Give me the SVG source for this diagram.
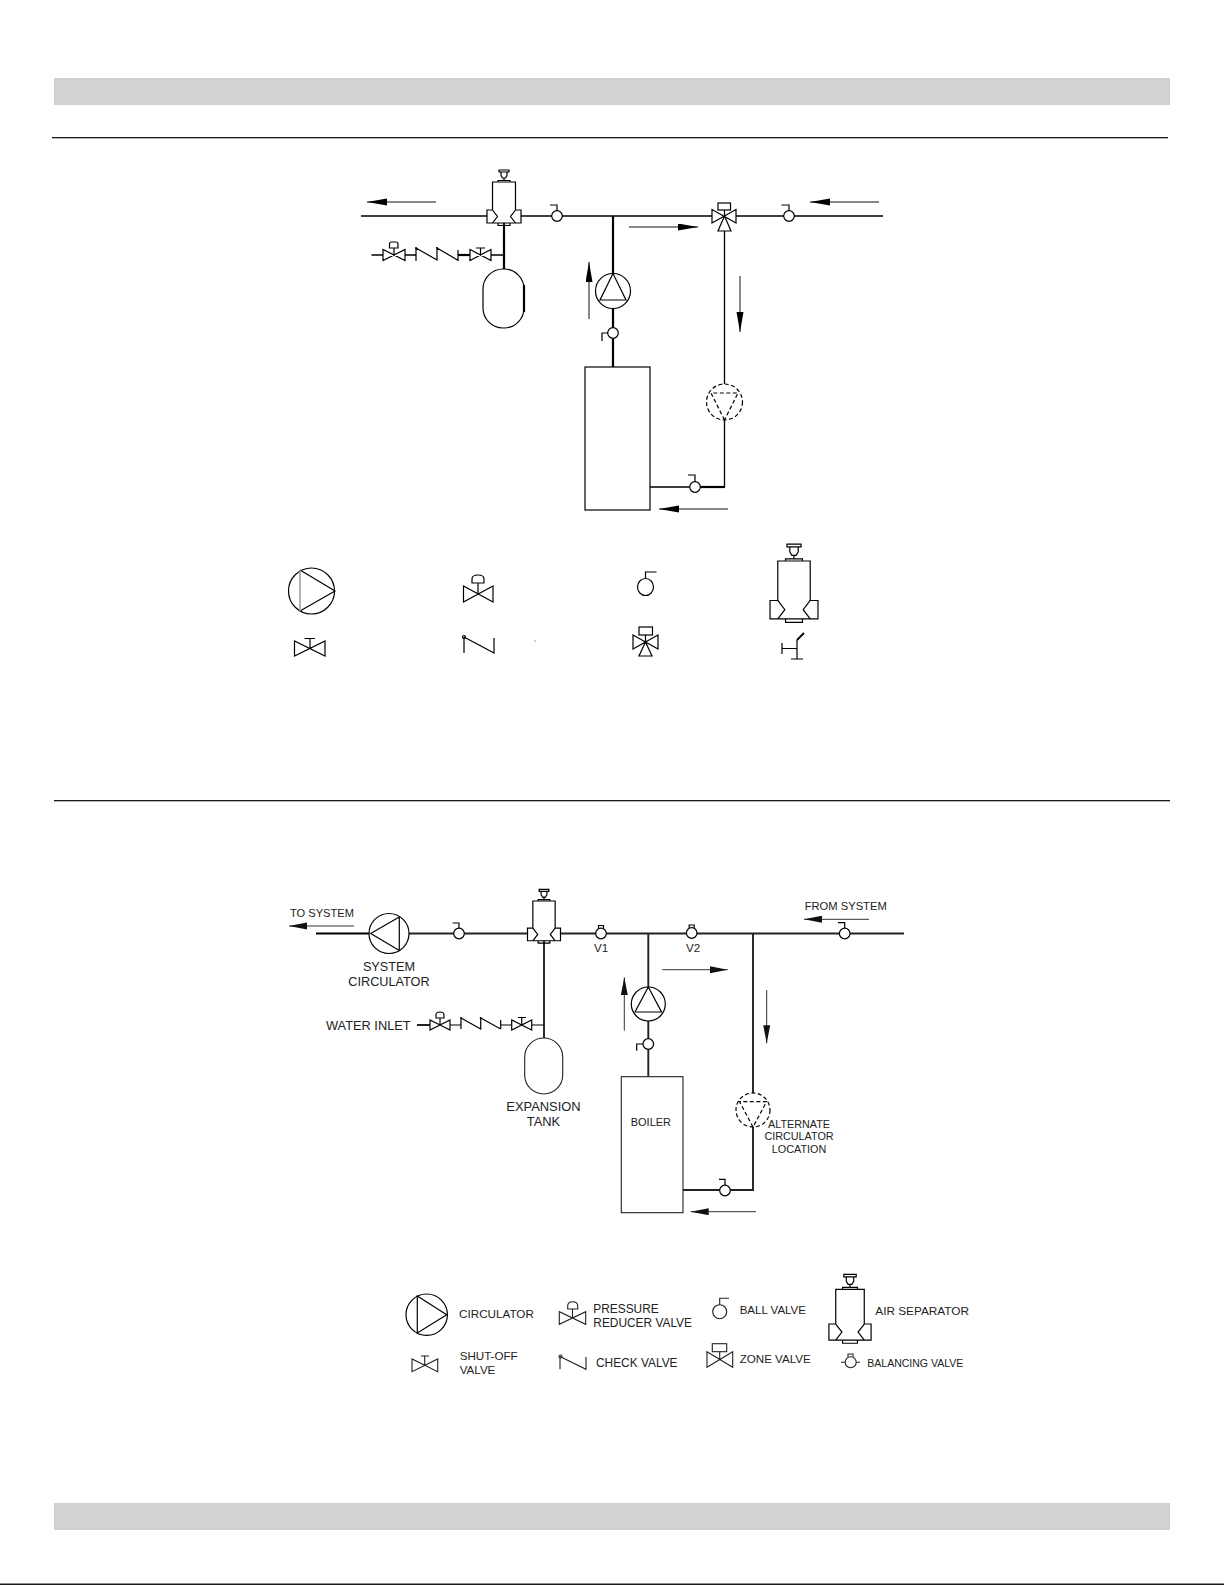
<svg xmlns="http://www.w3.org/2000/svg" xmlns:xlink="http://www.w3.org/1999/xlink" width="1225" height="1585" viewBox="0 0 1225 1585">
<style>
.s{fill:none;stroke:#000;stroke-width:1.2}
.w{fill:#fff;stroke:#000;stroke-width:1.2}
.p{fill:none;stroke:#000;stroke-width:1.3}
.t{fill:none;stroke:#000;stroke-width:2.2}
.q{fill:none;stroke:#222;stroke-width:1.9}
.a{fill:none;stroke:#111;stroke-width:1;marker-end:url(#h)}
.b{fill:none;stroke:#333;stroke-width:1;marker-end:url(#h2)}
.d{stroke-dasharray:4 2.5}
.g{fill:none;stroke:#222;stroke-width:1.1}
.n{vector-effect:non-scaling-stroke}
text{font-family:"Liberation Sans",Arial,sans-serif;fill:#222}
.m{text-anchor:middle}
</style>
<defs>
<marker id="h" markerUnits="userSpaceOnUse" markerWidth="21" markerHeight="8" refX="20" refY="3.5" orient="auto"><path d="M0 0L20 3.5L0 7Z" fill="#000"/></marker>
<marker id="h2" markerUnits="userSpaceOnUse" markerWidth="19" markerHeight="8" refX="18" refY="3.5" orient="auto"><path d="M0 0L18 3.5L0 7Z" fill="#111"/></marker>
<g id="sep">
<path class="s n" style="fill:#fff" d="M-11.5 0V28H-17V41H17V28H11.5V0Z"/>
<path class="s n" d="M-11.5 28L-6.500 34.5L-11.5 41M11.5 28L6.500 34.5L11.5 41M-6 41V43.5H6V41M-6 0V-1.5H6V0M0 -1.5V-4M-3 -10V-6.5L-1.5 -4H1.5L3 -6.5V-10M-5 -10H5V-12H-5Z"/>
</g>
<circle id="bv" r="5.3" class="w"/>
</defs>

<rect id="top-band" x="54" y="78" width="1116" height="27" fill="#d2d2d2"/>
<rect id="bottom-band" x="54" y="1503" width="1116" height="27" fill="#d2d2d2"/>
<g id="rules" fill="#1a1a1a">
<rect x="52" y="137" width="1116" height="1.3"/>
<rect x="54" y="800" width="1116" height="1.3"/>
<rect x="0" y="1583.5" width="1224" height="1.5"/>
</g>

<g id="connectors-upper">
<path class="p" d="M361 216H487M521 216H712M736 216H883"/>
<path class="t" d="M613 216V367M504 223V269"/>
<path class="p" d="M724.500 231V384M724.500 420V487H650"/>
<path class="t" d="M701 487H725"/>
<path class="p" d="M371.500 255H383M405 255H416M491 255H504"/>
<path class="t" d="M458 255H470"/>
<path class="a" d="M436 202H367"/>
<path class="a" d="M879 202H810"/>
<path class="a" d="M629 227H698"/>
<path class="a" d="M589 319V262"/>
<path class="a" d="M740 276V332"/>
<path class="a" d="M728 509H659"/>
</g>
<g id="connectors-lower">
<path class="t" d="M316 933.500H369"/>
<path class="q" d="M409 933.500H527M560 933.500H904M544 939V1038M648.300 933V1076.700M753 933V1093M753 1127V1190H683M417 1025H430"/>
<path class="s" d="M450 1025H461M511 1025H500.700M531.700 1025H544"/>
<path class="b" d="M354 926H289"/>
<path class="b" d="M869 919.300H804"/>
<path class="b" d="M662.300 969.700H727.700"/>
<path class="b" d="M624.300 1030.700V977.300"/>
<path class="b" d="M766.700 990V1043.300"/>
<path class="b" d="M756 1211.700H690.700"/>
</g>

<g id="air-separator-1"><use href="#sep" transform="translate(504 182)"/></g>
<g id="ball-valve-1"><use href="#bv" x="557" y="216"/><path class="s" d="M557 211V205H550"/></g>
<g id="ball-valve-2"><use href="#bv" x="789" y="216"/><path class="s" d="M789 211V205H781.500"/></g>
<g id="ball-valve-3"><use href="#bv" x="613" y="333"/><path class="s" d="M608 333H602V341"/></g>
<g id="ball-valve-4"><use href="#bv" x="695" y="487"/><path class="s" d="M695 482V475H688"/></g>
<g id="circulator-1"><circle cx="613" cy="291" r="17.500" class="w"/><path class="s" d="M613 273.500L600 300H626Z"/></g>
<g id="circulator-alt-1"><circle cx="724.500" cy="402" r="18" class="w d"/><path class="s d" d="M724.500 420L711 393H738Z"/></g>
<g id="zone-valve-1"><path class="s" d="M712 209.500V223L736 209.500V223ZM724.500 216L718 231H731ZM724.500 216V210"/><rect x="718" y="203" width="12.500" height="7" class="s"/></g>
<g id="boiler-1"><rect x="585" y="367" width="65" height="143" class="s"/></g>
<g id="tank-1"><rect x="483" y="269" width="41" height="59" rx="20" ry="20" class="s"/><path class="t" d="M524 285V312"/></g>
<g id="inlet-train-1">
<path class="s" d="M383 249.500V260.500L405 249.500V260.500ZM394 255V248"/><path class="s" d="M389.500 248V244Q389.500 242 391.500 242H396Q398 242 398 244V248Z"/>
<path class="s" d="M416 248V261M416 248L437 260V248L457.500 260M458 250V261"/><circle cx="416" cy="248" r="1" fill="#000"/><circle cx="437" cy="248" r="1" fill="#000"/>
<path class="s" d="M470 249.500V260.500L491 249.500V260.500ZM480.500 255V248M476 248H485"/>
</g>

<g id="legend-1">
<g><circle cx="311.500" cy="591" r="23" class="s"/><path class="s" d="M300 570L335 591L300 611"/><path d="M300 570V611" stroke="#999" stroke-width="1.500"/></g>
<g><path class="s" d="M463.500 586V602L493 586V602ZM478 594V583"/><path class="s" d="M472 583V579Q472 575 478 575T484 579V583Z"/></g>
<g><ellipse cx="645.500" cy="587" rx="8" ry="8.500" class="s"/><path class="s" d="M645.500 578.500V572H656.500"/></g>
<g><use href="#sep" transform="translate(794 561) scale(1.41)"/></g>
<g><path class="s" d="M294.500 641V656L325 641V656ZM310 648.500V638.500M304.500 638.500H315"/></g>
<g><path class="s" d="M464 637V653M464 637L494 653V638"/><circle cx="464" cy="637" r="1.500" class="s"/><circle cx="535" cy="641" r="0.500" fill="#000"/></g>
<g><path class="s" d="M633 635V649L658 635V649ZM645.500 642L639 656H652ZM645.500 642V635"/><rect x="639" y="627" width="13.500" height="8" class="s"/></g>
<g><path class="s" d="M782 643V654M782 648.500H797M797 640V659M791 659H803"/><path d="M797 640L804 633" stroke="#000" stroke-width="1.800"/></g>
</g>

<g id="air-separator-2"><use href="#sep" transform="translate(544 901) scale(0.97)"/></g>
<g id="system-circulator"><circle cx="389" cy="933.500" r="20" class="w"/><path class="s" d="M399.300 917L370.700 933.500L399.300 950.500Z"/></g>
<g id="ball-valve-5"><use href="#bv" x="459" y="933.500"/><path class="s" d="M459 928.500V923H452.700"/></g>
<g id="v1"><use href="#bv" x="601" y="933.500"/><path class="s" d="M598.500 928.500V925.500H603.500V928.500"/></g>
<g id="v2"><use href="#bv" x="691.700" y="933"/><path class="s" d="M689.200 928V925H694.200V928"/></g>
<g id="ball-valve-6"><use href="#bv" x="844.700" y="933.500"/><path class="s" d="M844.700 928.500V922.700H838"/></g>
<g id="ball-valve-7"><use href="#bv" x="648.300" y="1044"/><path class="s" d="M643 1044H636.700V1050.700"/></g>
<g id="ball-valve-8"><use href="#bv" x="725" y="1190.500"/><path class="s" d="M725 1185.500V1179.300H719"/></g>
<g id="circulator-2"><circle cx="648.300" cy="1004" r="17" class="w"/><path class="s" d="M648.300 987L635 1012H661.500Z"/></g>
<g id="circulator-alt-2"><circle cx="753" cy="1110" r="17" class="w d"/><path class="s d" d="M753 1127L739.500 1101.700H766.500Z"/></g>
<g id="boiler-2"><rect x="621.300" y="1076.700" width="61.700" height="136" class="g"/></g>
<g id="tank-2"><rect x="524.700" y="1038" width="38" height="56" rx="19" ry="19" class="g"/></g>
<g id="inlet-train-2">
<path class="s" d="M430 1020V1030L450 1020V1030ZM440 1025V1018"/><path class="s" d="M436 1018V1015Q436 1012 440 1012T444 1015V1018Z"/>
<path class="s" d="M461 1018V1029M461 1018L480.700 1029V1018L500.700 1029M500.700 1020V1029"/><circle cx="461" cy="1018" r="1" fill="#000"/><circle cx="480.700" cy="1018" r="1" fill="#000"/>
<path class="s" d="M511.700 1020V1030L531.700 1020V1030ZM521.700 1025V1017.500M518 1017.500H526"/>
</g>

<g id="legend-2">
<g><circle cx="426.700" cy="1314.700" r="20.700" class="s"/><path class="s" d="M417.300 1296L446.700 1314.700L417.300 1333Z"/></g>
<g><path class="g" d="M559.300 1311.700V1324.300L585.700 1311.700V1324.300ZM572.500 1318V1309"/><path class="g" d="M567.700 1309V1306Q567.700 1301.700 572.700 1301.700T577.700 1306V1309Z"/></g>
<g><path class="g" d="M412 1359V1371.700L437.700 1359V1371.700ZM424.700 1365.300V1356M421 1356H429"/></g>
<g><path class="g" d="M560 1357V1369.300M560 1356.500L586 1369.300V1357"/><circle cx="560.500" cy="1356.500" r="1.500" class="g"/></g>
<g><circle cx="719.700" cy="1311.700" r="7" class="g"/><path class="g" d="M719.700 1304.700V1298.300H729"/></g>
<g><use href="#sep" transform="translate(850 1289.300) scale(1.24)"/></g>
<g><path class="g" d="M707 1351.700V1367.300L732.700 1351.700V1367.300ZM719.700 1359.500V1351.700"/><rect x="712.300" y="1343.700" width="14.400" height="8" class="g"/></g>
<g><circle cx="850.700" cy="1362.300" r="5.500" class="g"/><path class="g" d="M841 1362.300H845M856 1362.300H860M848 1357V1354H853V1357"/></g>
</g>

<g id="labels" font-size="11">
<text x="290" y="917.300" font-size="11.100">TO SYSTEM</text>
<text x="389" y="970.700" font-size="12.700" class="m">SYSTEM</text>
<text x="389" y="985.700" font-size="12.700" class="m">CIRCULATOR</text>
<text x="601" y="952" font-size="11.600" class="m">V1</text>
<text x="693" y="952" font-size="11.600" class="m">V2</text>
<text x="326" y="1030" font-size="12.800">WATER INLET</text>
<text x="543.500" y="1110.700" font-size="12.900" class="m">EXPANSION</text>
<text x="543.500" y="1126" font-size="12.900" class="m">TANK</text>
<text x="804.700" y="910" font-size="11.200">FROM SYSTEM</text>
<text x="630.700" y="1126" font-size="11">BOILER</text>
<text x="799" y="1127.700" font-size="10.800" class="m">ALTERNATE</text>
<text x="799" y="1140.300" font-size="10.800" class="m">CIRCULATOR</text>
<text x="799" y="1153" font-size="10.800" class="m">LOCATION</text>
<text x="459" y="1318.300" font-size="11.700">CIRCULATOR</text>
<text x="593.300" y="1312.700" font-size="11.900">PRESSURE</text>
<text x="593.300" y="1326.700" font-size="11.900">REDUCER VALVE</text>
<text x="739.700" y="1314" font-size="11.500">BALL VALVE</text>
<text x="875.300" y="1315" font-size="11.800">AIR SEPARATOR</text>
<text x="459.700" y="1360" font-size="11.600">SHUT-OFF</text>
<text x="459.700" y="1374" font-size="11.600">VALVE</text>
<text x="596" y="1366.700" font-size="11.900">CHECK VALVE</text>
<text x="739.700" y="1362.700" font-size="11.600">ZONE VALVE</text>
<text x="867.300" y="1366.500" font-size="11.700" textLength="96" lengthAdjust="spacingAndGlyphs">BALANCING VALVE</text>
</g>
</svg>
